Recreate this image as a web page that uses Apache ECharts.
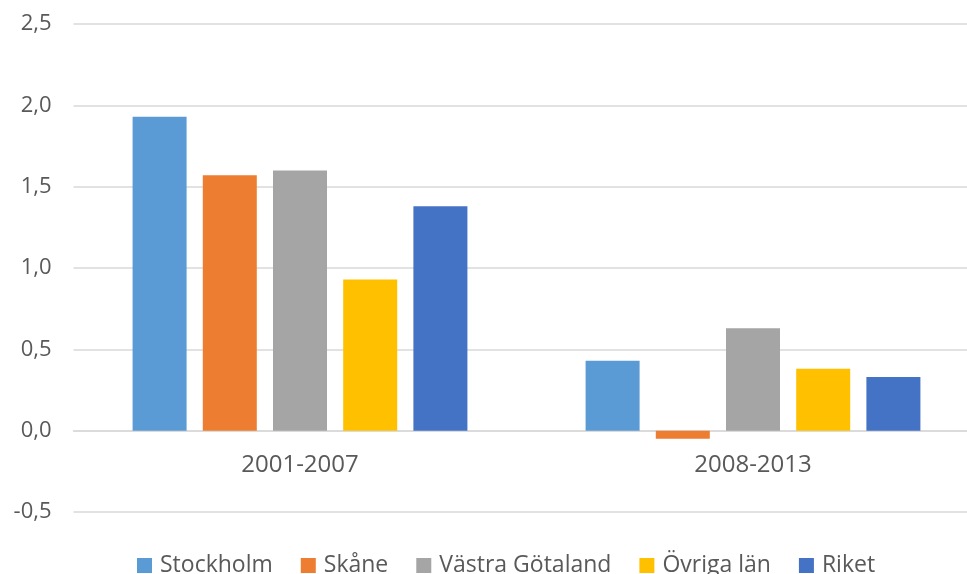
<!DOCTYPE html>
<html>
<head>
<meta charset="utf-8">
<script src="https://cdn.jsdelivr.net/npm/echarts@6/dist/echarts.min.js"></script>
<style>
  html, body { margin: 0; padding: 0; background: #fff; }
  #chart { width: 967px; height: 574px; }
</style>
</head>
<body>
<div id="chart"></div>
<script>
var periods = ['2001-2007', '2008-2013'];
var stockholm = [1.93, 0.43];
var skane = [1.57, -0.05];
var vastraGotaland = [1.60, 0.63];
var ovrigaLan = [0.93, 0.38];
var riket = [1.38, 0.33];

var chart = echarts.init(document.getElementById('chart'));

function barSeries(name, data, color) {
  return {
    name: name,
    type: 'bar',
    data: data,
    barWidth: 54,
    barGap: '30%',
    itemStyle: { color: color },
    emphasis: { disabled: true }
  };
}

// plot runs past the right edge of the window, like the cropped original
var options = {
  animation: false,
  textStyle: { fontFamily: 'Open Sans' },
  grid: { left: 73.5, width: 906, top: 24, bottom: 62, outerBoundsMode: 'none', containLabel: false },
  legend: {
    top: 549,
    left: 132,
    itemWidth: 15,
    itemHeight: 15,
    itemGap: 28,
    icon: 'rect',
    textStyle: { fontSize: 23, color: '#595959', fontFamily: 'Open Sans', padding: [0, 0, 0, 3] },
    data: ['Stockholm', 'Skåne', 'Västra Götaland', 'Övriga län', 'Riket']
  },
  xAxis: {
    type: 'category',
    data: periods,
    offset: -81.3,
    axisLine: { onZero: false, lineStyle: { color: '#d9d9d9', width: 1.5 } },
    axisTick: { show: false },
    axisLabel: { fontSize: 24, color: '#595959', margin: 22 }
  },
  yAxis: {
    type: 'value',
    min: -0.5,
    max: 2.5,
    interval: 0.5,
    axisLine: { show: false },
    axisTick: { show: false },
    splitLine: { lineStyle: { color: '#d9d9d9', width: 1.5 } },
    axisLabel: {
      fontSize: 22,
      color: '#595959',
      margin: 22,
      formatter: function (v) { return v.toFixed(1).replace('.', ','); }
    }
  },
  series: [
    barSeries('Stockholm', stockholm, '#5B9BD5'),
    barSeries('Skåne', skane, '#ED7D31'),
    barSeries('Västra Götaland', vastraGotaland, '#A5A5A5'),
    barSeries('Övriga län', ovrigaLan, '#FFC000'),
    barSeries('Riket', riket, '#4472C4')
  ]
};

chart.setOption(options);
</script>
</body>
</html>
